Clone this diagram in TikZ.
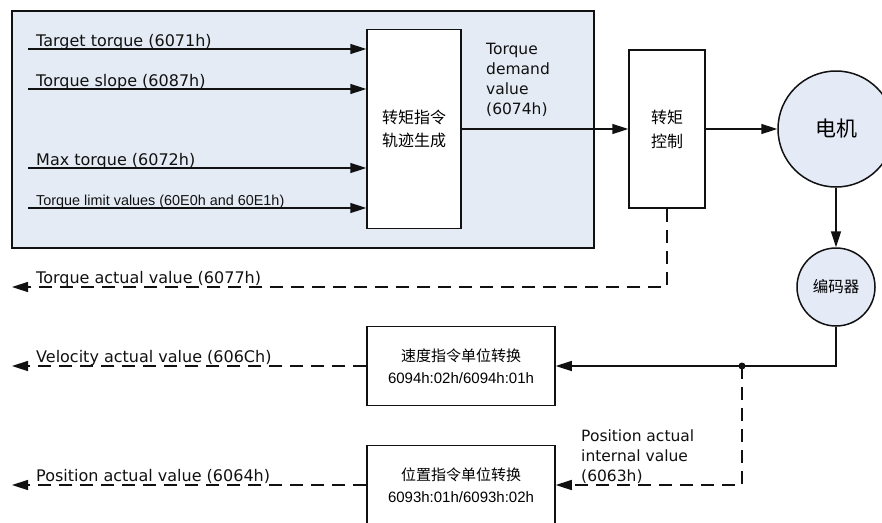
\documentclass[tikz,border=0pt]{standalone}
\usepackage{fontspec}
\setmainfont{DejaVu Sans}
\newfontfamily\zh{Noto Sans CJK SC}
\newfontfamily\narrowfont{Liberation Sans}
\usetikzlibrary{arrows.meta, positioning, calc}
\definecolor{cPanel}{HTML}{E4EBF5}
\definecolor{cDisk}{HTML}{E4EAF6}
\definecolor{cInk}{HTML}{111111}
\tikzset{
  block/.style={rectangle, draw=cInk, line width=1.5pt, fill=white, align=center, inner sep=0pt},
  disk/.style={circle, draw=cInk, line width=1.5pt, fill=cDisk, align=center, inner sep=0pt},
  sig/.style={font=\fontsize{16}{20}\selectfont, inner sep=0pt, align=left, text=cInk},
  flow/.style={-{Triangle[length=16pt, width=10pt]}, line width=1.5pt, draw=cInk},
  fb/.style={flow, dash pattern=on 13pt off 8pt},
}

\begin{document}
\begin{tikzpicture}[x=1pt, y=-1pt]
\useasboundingbox (0,0) rectangle (882,522);
\fill[white] (0,0) rectangle (882,522);
% torque command panel
\node[rectangle, draw=cInk, line width=1.5pt, fill=cPanel, anchor=north west, inner sep=0pt,
  minimum width=582pt, minimum height=237pt] (panel) at (11,10) {};
\node[block, minimum width=94pt, minimum height=199pt, font=\zh\fontsize{16}{23}\selectfont] (traj) at (414,129) {转矩指令\\轨迹生成};
% inputs
\coordinate (inTarget) at (28,49);
\coordinate (inSlope) at (28,89);
\coordinate (inMax) at (28,168);
\coordinate (inLimit) at (28,208);
\node[sig, anchor=base west] (lTarget) at (36,46) {Target torque (6071h)};
\node[sig, anchor=base west] (lSlope) at (36,86) {Torque slope (6087h)};
\node[sig, anchor=base west] (lMax) at (36,165) {Max torque (6072h)};
\node[sig, anchor=base west, font=\narrowfont\fontsize{14.4}{18}\selectfont] (lLimit) at (36,205) {Torque limit values (60E0h and 60E1h)};
\draw[flow] (inTarget) -- (inTarget -| traj.west);
\draw[flow] (inSlope) -- (inSlope -| traj.west);
\draw[flow] (inMax) -- (inMax -| traj.west);
\draw[flow] (inLimit) -- (inLimit -| traj.west);
% control chain
\node[block, minimum width=76pt, minimum height=158pt, font=\zh\fontsize{16}{24}\selectfont] (ctrl) at (667,129) {转矩\\控制};
\node[disk, minimum size=116pt, font=\zh\fontsize{21}{24}\selectfont] (motor) at (836,129) {电机};
\node[disk, minimum size=78pt, font=\zh\fontsize{15.5}{18}\selectfont] (enc) at (836,287) {编码器};
\node[sig, anchor=north west, font=\fontsize{15.5}{20}\selectfont] (lDemand) at (486,43) {Torque\\demand\\value\\(6074h)};
\draw[flow] (traj.east) -- (ctrl.west);
\draw[flow] (ctrl.east) -- (motor.west);
\draw[flow] (motor.south) -- (enc.north);
% feedback conversion
\node[block, minimum width=188pt, minimum height=79pt, font=\fontsize{15}{22}\selectfont] (speed) at (461,366) {{\zh 速度指令单位转换}\\{\narrowfont 6094h:02h/6094h:01h}};
\node[block, minimum width=188pt, minimum height=79pt, font=\fontsize{15}{22}\selectfont] (pos) at (461,485) {{\zh 位置指令单位转换}\\{\narrowfont 6093h:01h/6093h:02h}};
\coordinate (tap) at (742,366);
\draw[flow] (enc.south) |- (speed.east);
\fill[cInk] (tap) circle (3.5pt);
\draw[fb] (tap) |- (pos.east);
\node[sig, anchor=north west, font=\fontsize{15.5}{20}\selectfont] (lInternal) at (581,430) {Position actual\\internal value\\(6063h)};
% actual value outputs
\coordinate (outTorque) at (12,287);
\coordinate (outVel) at (12,366);
\coordinate (outPos) at (12,485);
\draw[fb] (ctrl.south) |- (outTorque);
\draw[fb] (speed.west) -- (outVel);
\draw[fb] (pos.west) -- (outPos);
\node[sig, anchor=base west] (lTorqueAct) at (36,283) {Torque actual value (6077h)};
\node[sig, anchor=base west] (lVelAct) at (36,362) {Velocity actual value (606Ch)};
\node[sig, anchor=base west] (lPosAct) at (36,481) {Position actual value (6064h)};
\end{tikzpicture}
\end{document}
